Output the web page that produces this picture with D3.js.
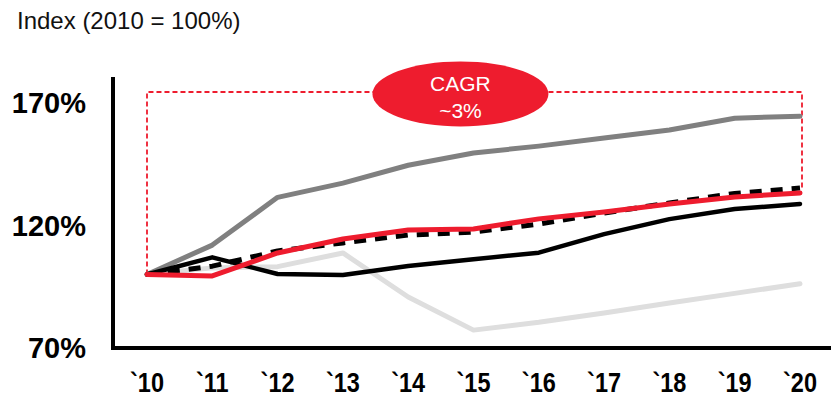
<!DOCTYPE html>
<html>
<head>
<meta charset="utf-8">
<script src="https://cdn.jsdelivr.net/npm/d3@7/dist/d3.min.js"></script>
<style>
  html, body { margin: 0; padding: 0; background: #fff; }
  svg { display: block; font-family: "Liberation Sans", Arial, sans-serif; }
</style>
</head>
<body>
<svg id="chart" width="832" height="397"></svg>
<script>
// Years on the horizontal axis and their labels
const years = [2010, 2011, 2012, 2013, 2014, 2015, 2016, 2017, 2018, 2019, 2020];
const yearLabels = ["`10", "`11", "`12", "`13", "`14", "`15", "`16", "`17", "`18", "`19", "`20"];

// Index values (2010 = 100%)
const seriesGray      = [100, 112, 131.5, 137.3, 144.6, 149.6, 152.4, 155.7, 159, 163.8, 164.6];
const seriesLightGray = [100, 102.7, 103.2, 108.8, 90.8, 77.3, 80.5, 84.3, 88.4, 92.3, 96.2];
const seriesBlack     = [100, 107, 100.2, 99.8, 103.5, 106.2, 108.9, 116.5, 122.6, 126.7, 128.8];
const seriesDashed    = [100, 103.4, 109.6, 112.9, 116.1, 117.3, 120.6, 125.1, 129.2, 133.1, 135.3];
const seriesRed       = [100, 99.4, 108.8, 114.5, 118.2, 118.6, 122.7, 125.5, 128.8, 131.6, 133.3];

// Vertical axis ticks
const yTicks = [70, 120, 170];
const yTickLabels = ["70%", "120%", "170%"];

// CAGR annotation
const cagrLines = ["CAGR", "~3%"];
const cagrTop = [174.5];

const RED = "#ee1c2e";

const svg = d3.select("#chart");

const x = d3.scaleLinear().domain([2010, 2020]).range([147, 800]);
const y = d3.scaleLinear().domain([70, 170]).range([348, 103]);

// Title
svg.append("text")
  .attr("x", 17).attr("y", 29)
  .attr("font-size", 24)
  .attr("fill", "#111")
  .text("Index (2010 = 100%)");

// Axes lines
svg.append("line")
  .attr("x1", 113).attr("x2", 113)
  .attr("y1", 77).attr("y2", y(70) + 2)
  .attr("stroke", "#000").attr("stroke-width", 4);
svg.append("line")
  .attr("x1", 111).attr("x2", 831)
  .attr("y1", y(70)).attr("y2", y(70))
  .attr("stroke", "#000").attr("stroke-width", 4);

// Y tick labels
svg.append("g").selectAll("text")
  .data(yTicks)
  .join("text")
  .attr("x", 86)
  .attr("y", d => y(d))
  .attr("dy", "0.36em")
  .attr("text-anchor", "end")
  .attr("font-size", 29)
  .attr("font-weight", "bold")
  .attr("fill", "#000")
  .text((d, i) => yTickLabels[i]);

// X tick labels (slightly condensed bold)
svg.append("g").selectAll("text")
  .data(years)
  .join("text")
  .attr("x", d => x(d))
  .attr("y", 392)
  .attr("text-anchor", "middle")
  .attr("font-size", 28)
  .attr("font-weight", "bold")
  .attr("fill", "#000")
  .attr("transform", d => `translate(${x(d)},0) scale(0.84,1) translate(${-x(d)},0)`)
  .text((d, i) => yearLabels[i]);

// CAGR bracket: dashed outline from the 2010 start up, across, and down to the 2020 value
const last = seriesDashed.length - 1;
const bracket = d3.path();
bracket.moveTo(x(years[0]), y(seriesDashed[0]));
bracket.lineTo(x(years[0]), y(cagrTop[0]));
bracket.lineTo(x(years[last]) + 2, y(cagrTop[0]));
bracket.lineTo(x(years[last]) + 2, y(seriesDashed[last]));
svg.append("path")
  .attr("d", bracket.toString())
  .attr("fill", "none")
  .attr("stroke", RED)
  .attr("stroke-width", 1.8)
  .attr("stroke-dasharray", "5,3");

// Lines
const line = d3.line()
  .x((d, i) => x(years[i]))
  .y(d => y(d));

const series = [
  { values: seriesLightGray, color: "#dedede", width: 5, dash: null },
  { values: seriesGray,      color: "#808080", width: 5, dash: null },
  { values: seriesBlack,     color: "#000000", width: 4.5, dash: null },
  { values: seriesDashed,    color: "#000000", width: 5, dash: "12,9" },
  { values: seriesRed,       color: RED,       width: 5, dash: null }
];

svg.append("g").selectAll("path")
  .data(series)
  .join("path")
  .attr("d", d => line(d.values))
  .attr("fill", "none")
  .attr("stroke", d => d.color)
  .attr("stroke-width", d => d.width)
  .attr("stroke-linejoin", "round")
  .attr("stroke-linecap", d => d.dash ? "butt" : "round")
  .attr("stroke-dasharray", d => d.dash);

// CAGR badge
const cx = x(2014.8), cy = y(cagrTop[0]) + 2;
svg.append("ellipse")
  .attr("cx", cx).attr("cy", cy)
  .attr("rx", 88).attr("ry", 32.5)
  .attr("fill", RED);
svg.append("g").selectAll("text")
  .data(cagrLines)
  .join("text")
  .attr("x", cx)
  .attr("y", (d, i) => cy - 3 + i * 27)
  .attr("text-anchor", "middle")
  .attr("font-size", 21)
  .attr("fill", "#fff")
  .text(d => d);
</script>
</body>
</html>
